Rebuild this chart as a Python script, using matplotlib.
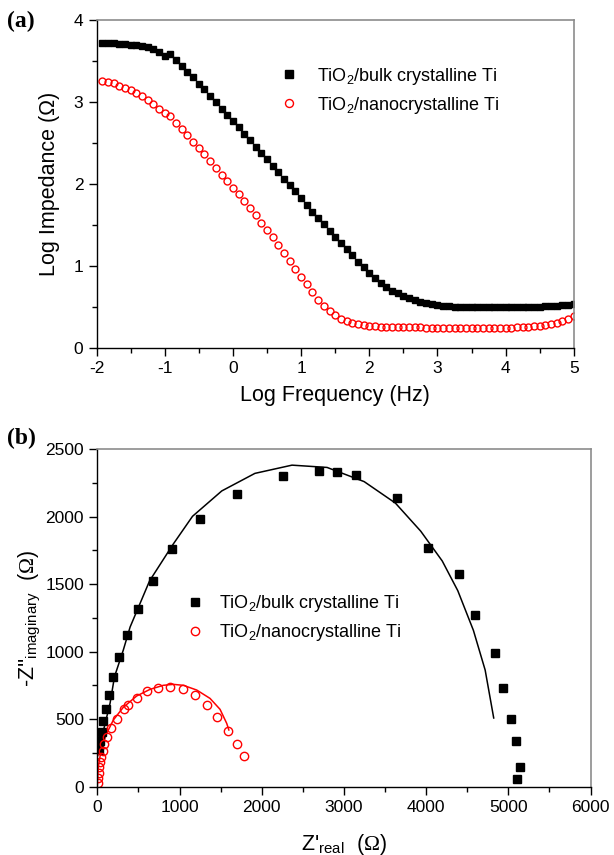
import matplotlib
matplotlib.use("Agg")
import matplotlib.pyplot as plt
from matplotlib.ticker import MultipleLocator

plt.rcParams['font.family'] = ['Liberation Sans', 'DejaVu Sans']
plt.rcParams['mathtext.fontset'] = 'custom'
plt.rcParams['mathtext.rm'] = 'Liberation Serif'
plt.rcParams['mathtext.default'] = 'regular'
plt.rcParams['axes.unicode_minus'] = False

# ---- panel (a): Bode plot ----
log_freq = [-1.917, -1.833, -1.750, -1.667, -1.583, -1.500, -1.417, -1.333, -1.250, -1.167,
            -1.083, -1.000, -0.917, -0.833, -0.750, -0.667, -0.583, -0.500, -0.417, -0.333,
            -0.250, -0.167, -0.083, 0.000, 0.083, 0.167, 0.250, 0.333, 0.417, 0.500,
            0.583, 0.667, 0.750, 0.833, 0.917, 1.000, 1.083, 1.167, 1.250, 1.333,
            1.417, 1.500, 1.583, 1.667, 1.750, 1.833, 1.917, 2.000, 2.083, 2.167,
            2.250, 2.333, 2.417, 2.500, 2.583, 2.667, 2.750, 2.833, 2.917, 3.000,
            3.083, 3.167, 3.250, 3.333, 3.417, 3.500, 3.583, 3.667, 3.750, 3.833,
            3.917, 4.000, 4.083, 4.167, 4.250, 4.333, 4.417, 4.500, 4.583, 4.667,
            4.750, 4.833, 4.917, 5.000]

logz_bulk = [3.72, 3.72, 3.715, 3.71, 3.705, 3.70, 3.69, 3.68, 3.665, 3.645,
             3.615, 3.56, 3.585, 3.51, 3.435, 3.37, 3.30, 3.225, 3.155, 3.075,
             2.995, 2.92, 2.845, 2.765, 2.69, 2.61, 2.535, 2.455, 2.38, 2.30,
             2.22, 2.145, 2.065, 1.99, 1.91, 1.83, 1.745, 1.664, 1.59, 1.514,
             1.43, 1.358, 1.283, 1.205, 1.135, 1.05, 0.983, 0.918, 0.857, 0.795,
             0.738, 0.70, 0.668, 0.635, 0.607, 0.585, 0.565, 0.549, 0.537, 0.525,
             0.517, 0.510, 0.505, 0.502, 0.50, 0.498, 0.497, 0.496, 0.495, 0.495,
             0.495, 0.495, 0.496, 0.497, 0.498, 0.50, 0.502, 0.505, 0.508, 0.512,
             0.517, 0.523, 0.53, 0.54]

logz_nano = [3.26, 3.245, 3.228, 3.20, 3.172, 3.143, 3.112, 3.07, 3.02, 2.97,
             2.915, 2.86, 2.83, 2.745, 2.67, 2.595, 2.515, 2.44, 2.36, 2.275,
             2.20, 2.115, 2.04, 1.955, 1.875, 1.79, 1.71, 1.625, 1.53, 1.445,
             1.35, 1.255, 1.157, 1.06, 0.96, 0.865, 0.775, 0.68, 0.59, 0.513,
             0.445, 0.397, 0.357, 0.33, 0.309, 0.293, 0.281, 0.272, 0.265, 0.26,
             0.257, 0.255, 0.253, 0.252, 0.251, 0.25, 0.25, 0.249, 0.248, 0.247,
             0.246, 0.245, 0.245, 0.244, 0.244, 0.244, 0.244, 0.244, 0.245, 0.245,
             0.246, 0.247, 0.249, 0.251, 0.254, 0.258, 0.263, 0.27, 0.279, 0.292,
             0.31, 0.333, 0.358, 0.385]

# ---- panel (b): Nyquist plot ----
zre_bulk = [15, 35, 55, 75, 100, 140, 195, 265, 355, 489, 674, 911, 1253, 1699,
            2254, 2691, 2914, 3151, 3640, 4020, 4400, 4589, 4841, 4941, 5031,
            5097, 5140, 5107]
zim_bulk = [270, 335, 402, 485, 573, 680, 810, 958, 1122, 1315, 1525, 1758, 1983, 2165,
            2302, 2336, 2334, 2309, 2135, 1768, 1577, 1271, 987, 730, 504,
            335, 144, 56]

zre_nano = [9, 12, 17, 24, 33, 45, 66, 78, 118, 170, 236, 321, 373, 479, 601,
            742, 884, 1039, 1189, 1331, 1460, 1594, 1700, 1785]
zim_nano = [25, 62, 104, 144, 185, 220, 264, 314, 370, 437, 501, 578, 607, 657, 711,
            731, 741, 724, 679, 603, 516, 415, 318, 227]

fit_re_bulk = [0, 76, 155, 209, 316, 399, 636, 921, 1158, 1514, 1917, 2368, 2795,
               3246, 3626, 3934, 4196, 4385, 4575, 4718, 4822]
fit_im_bulk = [250, 420, 618, 815, 1012, 1183, 1525, 1795, 2003, 2191, 2321, 2382, 2365,
               2260, 2101, 1893, 1672, 1452, 1158, 864, 509]

fit_re_nano = [0, 12, 53, 114, 195, 316, 479, 641, 803, 925, 1046, 1209, 1371,
               1493, 1574, 1600]
fit_im_nano = [0, 148, 296, 395, 494, 588, 672, 721, 751, 758, 751, 716, 654,
               573, 469, 420]

label_bulk = 'TiO$_2$/bulk crystalline Ti'
label_nano = 'TiO$_2$/nanocrystalline Ti'


def style_axes(ax):
    for s in ['top', 'right']:
        ax.spines[s].set_color('#8c8c8c')
        ax.spines[s].set_linewidth(1.2)
    for s in ['left', 'bottom']:
        ax.spines[s].set_linewidth(1.0)
    ax.tick_params(which='both', direction='out', top=False, right=False, labelsize=12.5)
    ax.tick_params(which='major', length=6, width=1)
    ax.tick_params(which='minor', length=3.5, width=1)


fig = plt.figure(figsize=(6.14, 8.55), dpi=100)

# (a)
ax1 = fig.add_axes([0.1572, 0.5930, 0.7774, 0.3836])
ax1.plot(log_freq, logz_bulk, linestyle='none', marker='s', ms=5, color='black',
         label=label_bulk)
ax1.plot(log_freq, logz_nano, linestyle='none', marker='o', ms=5, mfc='none',
         mec='red', mew=1.0, label=label_nano)
ax1.set_xlim(-2, 5)
ax1.set_ylim(0, 4)
ax1.xaxis.set_major_locator(MultipleLocator(1))
ax1.xaxis.set_minor_locator(MultipleLocator(0.5))
ax1.yaxis.set_major_locator(MultipleLocator(1))
ax1.yaxis.set_minor_locator(MultipleLocator(0.5))
style_axes(ax1)
ax1.set_xlabel('Log Frequency (Hz)', fontsize=15.5, labelpad=6)
ax1.set_ylabel('Log Impedance (\u03a9)', fontsize=15.5, labelpad=10)
ax1.legend(loc='upper left', bbox_to_anchor=(0.385, 0.861), frameon=False,
           fontsize=13, handlelength=1, handletextpad=1.05, borderpad=0,
           borderaxespad=0, labelspacing=0.45, markerscale=1.15)
fig.text(0.012, 0.975, '(a)', fontsize=17, fontweight='bold',
         family='Liberation Serif', va='center')

# (b)
ax2 = fig.add_axes([0.1585, 0.0799, 0.8033, 0.3947])
ax2.plot(fit_re_bulk, fit_im_bulk, color='black', lw=1.1)
ax2.plot(fit_re_nano, fit_im_nano, color='red', lw=1.1)
ax2.plot(zre_bulk, zim_bulk, linestyle='none', marker='s', ms=5.2, color='black',
         label=label_bulk)
ax2.plot(zre_nano, zim_nano, linestyle='none', marker='o', ms=6, mfc='none',
         mec='red', mew=1.0, label=label_nano)
ax2.set_xlim(0, 6000)
ax2.set_ylim(0, 2500)
ax2.xaxis.set_major_locator(MultipleLocator(1000))
ax2.xaxis.set_minor_locator(MultipleLocator(500))
ax2.yaxis.set_major_locator(MultipleLocator(500))
ax2.yaxis.set_minor_locator(MultipleLocator(250))
style_axes(ax2)
ax2.set_xlabel("Z'$_{real}$  ($\\mathrm{\\Omega}$)", fontsize=15.5, labelpad=12)
ax2.set_ylabel("-Z''$_{imaginary}$  ($\\mathrm{\\Omega}$)", fontsize=15.5, labelpad=2)
ax2.legend(loc='upper left', bbox_to_anchor=(0.18, 0.574), frameon=False,
           fontsize=13, handlelength=1, handletextpad=0.8, borderpad=0,
           borderaxespad=0, labelspacing=0.45)
fig.text(0.012, 0.487, '(b)', fontsize=17, fontweight='bold',
         family='Liberation Serif', va='center')

fig.savefig('out.png', dpi=100)
